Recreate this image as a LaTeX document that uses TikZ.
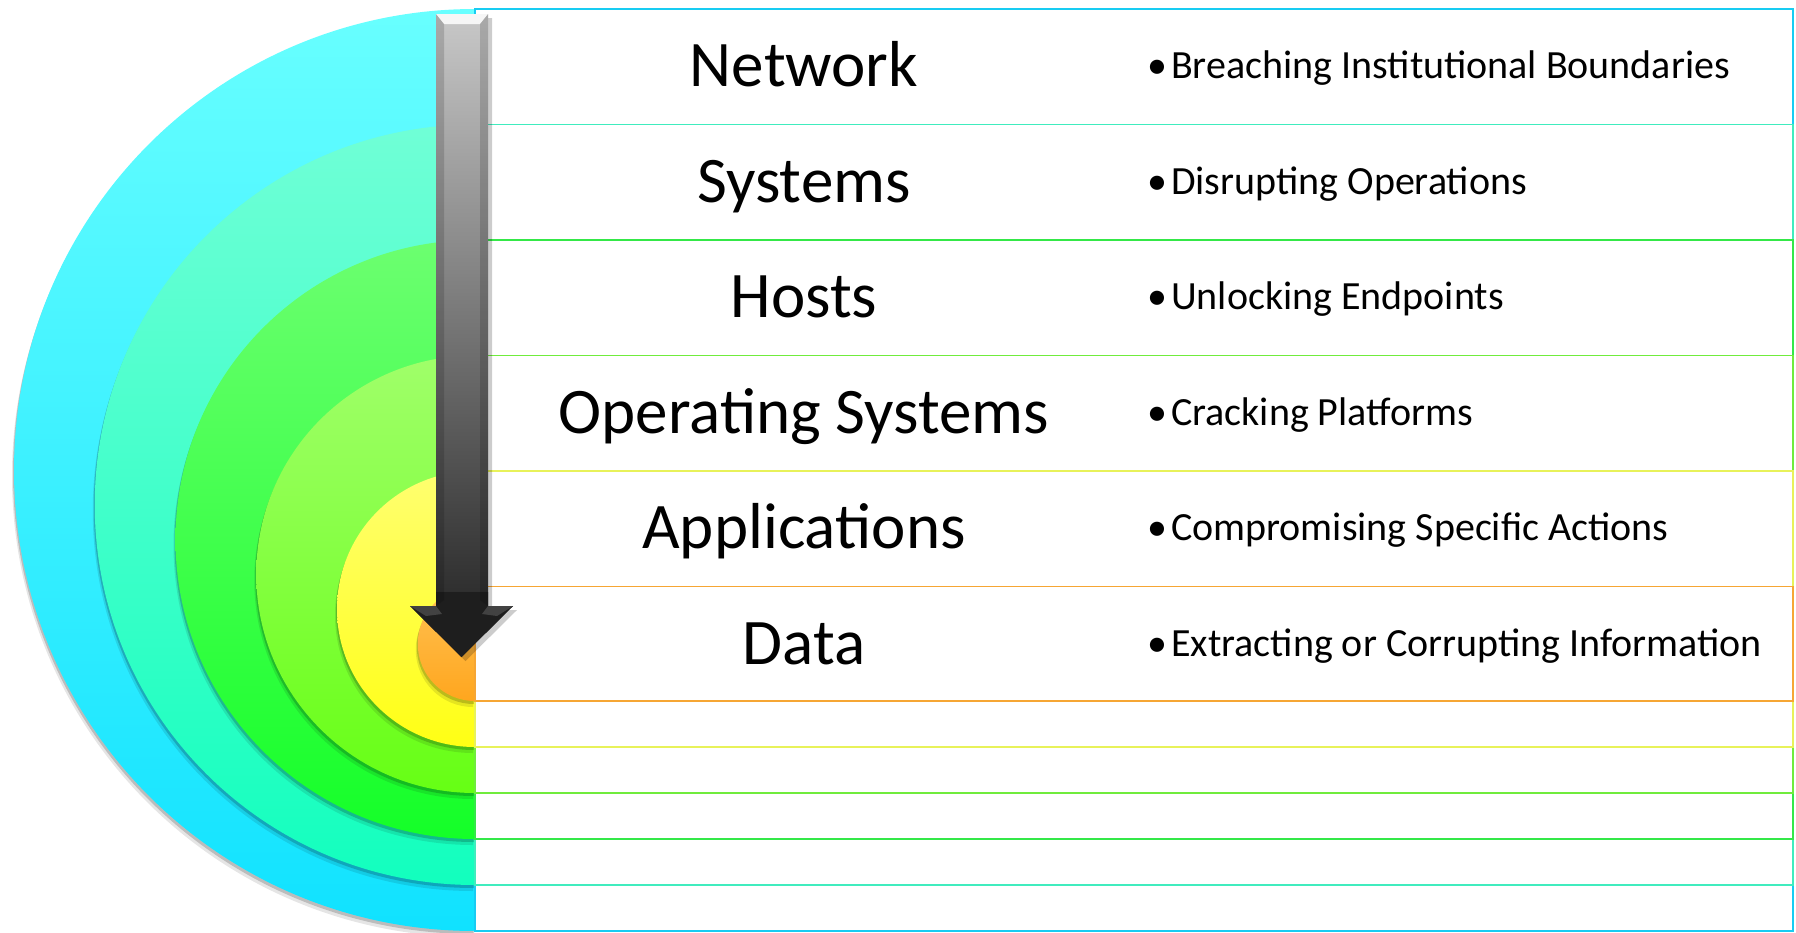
\documentclass[tikz,border=0pt]{standalone}
\usepackage{fontspec}
\setmainfont{Carlito}
\definecolor{c0t}{RGB}{104,255,255}\definecolor{c0b}{RGB}{16,226,255}
\definecolor{c1t}{RGB}{112,255,214}\definecolor{c1b}{RGB}{18,255,190}
\definecolor{c2t}{RGB}{108,255,112}\definecolor{c2b}{RGB}{20,255,40}
\definecolor{c3t}{RGB}{160,255,106}\definecolor{c3b}{RGB}{102,255,20}
\definecolor{c4t}{RGB}{255,255,112}\definecolor{c4b}{RGB}{255,255,20}
\definecolor{c5t}{RGB}{255,194,84}\definecolor{c5b}{RGB}{255,166,30}
\definecolor{l0}{RGB}{24,204,242}
\definecolor{l1}{RGB}{64,236,190}
\definecolor{l2}{RGB}{52,232,72}
\definecolor{l3}{RGB}{112,236,60}
\definecolor{l4}{RGB}{232,242,90}
\definecolor{l5}{RGB}{246,166,52}
\definecolor{artop}{RGB}{200,200,200}
\definecolor{armid}{RGB}{128,128,128}
\definecolor{arbot}{RGB}{30,30,30}
\tikzset{
  title/.style={anchor=base,inner sep=0pt,font=\fontsize{65}{78}\selectfont},
  bul/.style={anchor=base,inner sep=0pt,font=\fontsize{40}{48}\selectfont},
  desc/.style={anchor=base west,inner sep=0pt,font=\fontsize{40}{48}\selectfont},
  ringline/.style={line width=1.8pt}
}
\begin{document}
\begin{tikzpicture}[x=1pt,y=-1pt]
\useasboundingbox (0,0) rectangle (1796,932);
% half discs
\foreach \i/\ct/\cb in {0/c0t/c0b,1/c1t/c1b,2/c2t/c2b,3/c3t/c3b,4/c4t/c4b,5/c5t/c5b}{
  \pgfmathsetmacro\rad{461-80.75*\i}
  \pgfmathsetmacro\bot{931-46*\i}
  \pgfmathsetmacro\sbota{\bot+3}
  \pgfmathsetmacro\sbotb{\bot+6}
  \fill[black,opacity=.10] (473,\sbotb) arc[start angle=90,end angle=270,radius=\rad] -- cycle;
  \fill[black,opacity=.18] (474,\sbota) arc[start angle=90,end angle=270,radius=\rad] -- cycle;
  \shade[top color=\ct,bottom color=\cb] (475,\bot) arc[start angle=90,end angle=270,radius=\rad] -- cycle;
}
% ring frames
\foreach \i/\lc in {0/l0,1/l1,2/l2,3/l3,4/l4,5/l5}{
  \pgfmathsetmacro\tp{9+115.5*\i}
  \pgfmathsetmacro\bot{931-46*\i}
  \draw[ringline,\lc] (475,\tp) rectangle (1793,\bot);
}
% arrow shadow
\fill[black,opacity=.2] (440,18) -- (492,18) -- (492,610) -- (517,610) -- (465.5,661) -- (414,610) -- (440,610) -- cycle;
% arrow
\shade[top color=artop,middle color=armid,bottom color=arbot]
  (436,14) -- (488,14) -- (488,606) -- (513,606) -- (461.5,657) -- (410,606) -- (436,606) -- cycle;
\fill[arbot] (488,592) -- (488,606) -- (513,606) -- (461.5,657) -- (410,606) -- (436,606) -- (436,592) -- cycle;
% bevels
\fill[white,opacity=.85] (436,14) -- (488,14) -- (480,24) -- (444,24) -- cycle;
\fill[black,opacity=.15] (436,14) -- (444,24) -- (444,600) -- (436,606) -- cycle;
\fill[black,opacity=.15] (488,14) -- (480,24) -- (480,600) -- (488,606) -- cycle;
\fill[white,opacity=.16] (410,606) -- (436,606) -- (442,614) -- (426,616) -- cycle;
\fill[white,opacity=.16] (513,606) -- (488,606) -- (482,614) -- (497,616) -- cycle;
% titles
\node[title] (t0) at (804,86.75) {Network};
\node[title] (t1) at (804,202.25) {Systems};
\node[title] (t2) at (804,317.75) {Hosts};
\node[title] (t3) at (804,433.25) {Operating Systems};
\node[title] (t4) at (804,548.75) {Applications};
\node[title] (t5) at (804,664.25) {Data};
% bullets
\node[bul] (b0) at (1157,78.75) {•};
\node[bul] (b1) at (1157,194.25) {•};
\node[bul] (b2) at (1157,309.75) {•};
\node[bul] (b3) at (1157,425.25) {•};
\node[bul] (b4) at (1157,540.75) {•};
\node[bul] (b5) at (1157,656.25) {•};
\node[desc] (d0) at (1171,78.75) {Breaching Institutional Boundaries};
\node[desc] (d1) at (1171,194.25) {Disrupting Operations};
\node[desc] (d2) at (1171,309.75) {Unlocking Endpoints};
\node[desc] (d3) at (1171,425.25) {Cracking Platforms};
\node[desc] (d4) at (1171,540.75) {Compromising Specific Actions};
\node[desc] (d5) at (1171,656.25) {Extracting or Corrupting Information};
\end{tikzpicture}
\end{document}
